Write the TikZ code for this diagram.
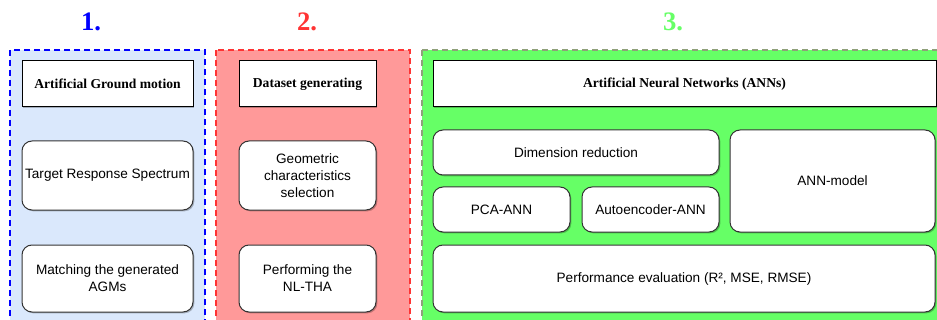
\documentclass[tikz,border=0pt]{standalone}
\usepackage{fontspec}
\setmainfont{Liberation Serif}
\setsansfont{Liberation Sans}
\usetikzlibrary{shadows}
\definecolor{bfill}{HTML}{DAE8FC}
\definecolor{bdraw}{HTML}{0000FF}
\definecolor{rfill}{HTML}{FF9999}
\definecolor{rdraw}{HTML}{FF3333}
\definecolor{gfill}{HTML}{66FF66}
\definecolor{gdraw}{HTML}{8FA07A}
\definecolor{num1}{HTML}{0000FF}
\definecolor{num2}{HTML}{FF3333}
\definecolor{num3}{HTML}{66FF66}
\def\px{0.75pt}
\tikzset{
  shd/.style={drop shadow={shadow xshift=1pt,shadow yshift=-1pt,fill=black,opacity=0.25}},
  hdr/.style={draw=black,line width=0.75pt,fill=white,inner sep=0pt,align=center,
    font=\rmfamily\bfseries\fontsize{10.2}{12.75}\selectfont,shd},
  rbox/.style={draw=black!80,line width=0.75pt,fill=white,rounded corners=7.5pt,inner sep=0pt,align=center,
    font=\sffamily\fontsize{10.2}{12.75}\selectfont,shd},
  cont/.style={dashed,dash pattern=on 4.5pt off 3pt,line width=1.1pt},
  num/.style={font=\rmfamily\bfseries\fontsize{20}{24}\selectfont}
}
\begin{document}
\begin{tikzpicture}[x=0.75pt,y=-0.75pt]
\useasboundingbox (0,0) rectangle (937,320);
\clip (0,0) rectangle (937,320);
\fill[white] (0,0) rectangle (937,320);
% containers
\draw[cont,draw=bdraw,fill=bfill] (10,50) rectangle (205,345);
\draw[cont,draw=rdraw,fill=rfill] (216,50) rectangle (410,345);
\draw[cont,draw=gdraw,fill=gfill] (422,50) rectangle (965,345);
% numbers
\node[num,text=num1] (n1) at (91,22) {1.};
\node[num,text=num2] (n2) at (307,22) {2.};
\node[num,text=num3] (n3) at (673,22) {3.};
% column 1
\node[hdr,minimum width=171*\px,minimum height=46*\px] (h1) at (107.5,84) {Artificial Ground motion};
\node[rbox,minimum width=171*\px,minimum height=69*\px] (t1) at (107.5,175.5) {Target Response Spectrum};
\node[rbox,minimum width=171*\px,minimum height=67*\px] (m1) at (107.5,278.5) {Matching the generated\\AGMs};
% column 2
\node[hdr,minimum width=137*\px,minimum height=46*\px] (h2) at (307.5,84) {Dataset generating};
\node[rbox,minimum width=137*\px,minimum height=69*\px] (g2) at (307.5,175.5) {Geometric\\characteristics\\selection};
\node[rbox,minimum width=137*\px,minimum height=67*\px] (p2) at (307.5,278.5) {Performing the\\NL-THA};
% column 3
\node[hdr,minimum width=503*\px,minimum height=46*\px] (h3) at (684.5,84) {Artificial Neural Networks (ANNs)};
\node[rbox,minimum width=286*\px,minimum height=45*\px] (dr) at (576,152.5) {Dimension reduction};
\node[rbox,minimum width=205*\px,minimum height=102*\px] (am) at (832.5,181) {ANN-model};
\node[rbox,minimum width=137*\px,minimum height=45*\px] (pca) at (501.5,209.5) {PCA-ANN};
\node[rbox,minimum width=137*\px,minimum height=45*\px] (ae) at (650.5,209.5) {Autoencoder-ANN};
\node[rbox,minimum width=502*\px,minimum height=67*\px] (pe) at (684,278.5) {Performance evaluation (R², MSE, RMSE)};
\end{tikzpicture}
\end{document}
